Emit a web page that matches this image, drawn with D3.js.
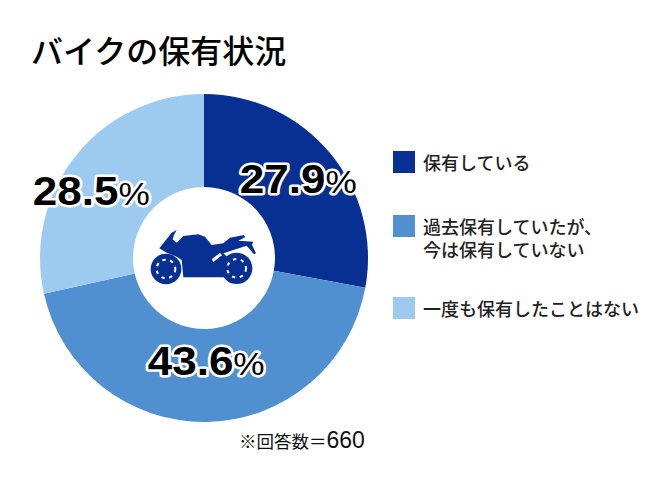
<!DOCTYPE html>
<html>
<head>
<meta charset="utf-8">
<script src="https://cdnjs.cloudflare.com/ajax/libs/d3/7.8.5/d3.min.js"></script>
<style>
html, body { margin: 0; padding: 0; background: #fff; }
svg { display: block; }
text { font-family: "Noto Sans CJK JP", sans-serif; }
</style>
</head>
<body>
<div id="chart"></div>
<script>
// data
var categories = ["保有している", "過去保有していたが、\n今は保有していない", "一度も保有したことはない"];
var values = [27.9, 43.6, 28.5];
var colors = ["#083092", "#5190d0", "#9ccbef"];
var titulo = "バイクの保有状況";
var notaTexto = "※回答数＝";
var notaN = "660";

var width = 650, height = 481;
var cx = 204, cy = 258, radio = 164, radioInt = 71;

var svg = d3.select("#chart").append("svg")
    .attr("width", width)
    .attr("height", height);

// titulo
svg.append("text")
    .attr("x", 31)
    .attr("y", 63)
    .style("font-size", "32px")
    .style("font-weight", "500")
    .attr("fill", "#000")
    .text(titulo);

// donut
var pie = d3.pie().sort(null).value(function(d) { return d; });
var arc = d3.arc().innerRadius(radioInt).outerRadius(radio);
var arcos = pie(values);

var g = svg.append("g").attr("transform", "translate(" + cx + "," + cy + ")");

g.selectAll("path.slice").data(arcos).enter()
    .append("path")
    .attr("class", "slice")
    .attr("fill", function(d, i) { return colors[i]; })
    .attr("d", arc);

// etiquetas: se mueven a mano desde el centroide
var ajuste = [[4, -3], [0, -13], [-21, 7]];
var etiquetas = g.selectAll("text.pct").data(arcos).enter()
    .append("text")
    .attr("class", "pct")
    .attr("transform", function(d, i) {
        var c = arc.centroid(d);
        return "translate(" + (c[0] + ajuste[i][0]) + "," + (c[1] + ajuste[i][1] + 13) + ") scale(1.1,1)";
    })
    .attr("text-anchor", "middle")
    .attr("fill", "#000")
    .attr("stroke", "#fff")
    .attr("stroke-width", 5)
    .attr("stroke-linejoin", "round")
    .attr("paint-order", "stroke")
    .style("font-family", "'Liberation Sans', sans-serif");

etiquetas.append("tspan")
    .style("font-size", "40px")
    .style("font-weight", "700")
    .text(function(d) { return d.value.toFixed(1); });
etiquetas.append("tspan")
    .style("font-size", "32px")
    .text("%");

// moto (silueta, coordenadas propias del icono)
var moto = svg.append("g")
    .attr("transform", "translate(130,200) scale(0.3333)")
    .attr("fill", "#083092");

moto.append("path")
    .attr("d", "M88,145 L125,98 L140,90 L132,105 L128,118 L140,128 L160,108 L205,103 L225,110 L245,135 L280,130 L300,113 L342,105 L345,112 L325,122 L370,125 L366,134 L378,160 L372,163 L350,137 L310,150 L280,160 L300,178 L300,232 L160,232 L155,180 L140,170 L110,158 Z");

var ruedas = [[108, 207, 46], [320, 205, 47]];
moto.selectAll("circle.rueda").data(ruedas).enter()
    .append("circle")
    .attr("class", "rueda")
    .attr("cx", function(d) { return d[0]; })
    .attr("cy", function(d) { return d[1]; })
    .attr("r", function(d) { return d[2]; });

moto.selectAll("circle.rayos").data(ruedas).enter()
    .append("circle")
    .attr("class", "rayos")
    .attr("cx", function(d) { return d[0]; })
    .attr("cy", function(d) { return d[1]; })
    .attr("r", 28)
    .attr("fill", "none")
    .attr("stroke", "#fff")
    .attr("stroke-width", 6)
    .attr("stroke-dasharray", "10 14");

moto.append("path")
    .attr("d", "M245,178 L270,158 L276,166 L250,186 Z")
    .attr("fill", "#fff");

// leyenda
var posY = [151, 215, 297];
var leyenda = svg.selectAll("g.ley").data(categories).enter()
    .append("g")
    .attr("class", "ley")
    .attr("transform", function(d, i) { return "translate(393," + posY[i] + ")"; });

leyenda.append("rect")
    .attr("width", 22)
    .attr("height", 22)
    .attr("fill", function(d, i) { return colors[i]; });

leyenda.append("text")
    .attr("x", 30)
    .attr("y", 19)
    .attr("fill", "#222")
    .style("font-size", "18px")
    .style("font-weight", "500")
    .selectAll("tspan")
    .data(function(d) { return d.split("\n"); })
    .enter()
    .append("tspan")
    .attr("x", 30)
    .attr("dy", function(d, i) { return i == 0 ? 0 : 23; })
    .text(function(d) { return d; });

// nota
var notaEl = svg.append("text")
    .attr("x", 239)
    .attr("y", 448)
    .attr("fill", "#111")
    .style("font-family", "'Liberation Sans', 'Noto Sans CJK JP', sans-serif");
notaEl.append("tspan").style("font-size", "17.5px").text(notaTexto);
notaEl.append("tspan").style("font-size", "23px").text(notaN);
</script>
</body>
</html>
